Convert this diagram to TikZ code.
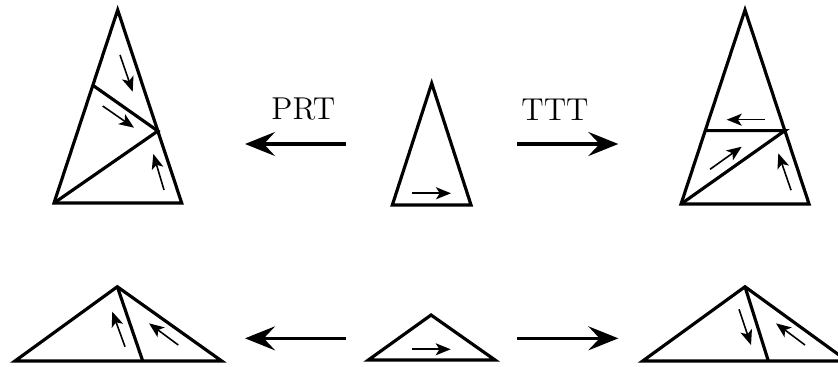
\documentclass[tikz,border=0pt]{standalone}
\usetikzlibrary{arrows.meta,calc}

\begin{document}
\begin{tikzpicture}[line width=1.2pt,
  map/.style={-{Stealth[length=4mm,width=3.2mm,inset=1.5mm]}},
  tick/.style={line width=0.6pt,-{Stealth[length=2mm,width=1.6mm,inset=0.5mm]}}]

\clip (0,0) rectangle (11.173,4.88);

\coordinate (a1) at (1.569,4.747);
\coordinate (b1) at (0.72,2.173);
\coordinate (c1) at (2.423,2.173);
\coordinate (p1) at ($(b1)!0.61!(a1)$);
\coordinate (q1) at ($(c1)!0.373!(a1)$);
\draw (a1) -- (b1) -- (c1) -- cycle;
\draw (p1) -- (q1) -- (b1);
\draw[tick] (1.6,4.147) -- (1.769,3.657);
\draw[tick] (1.369,3.467) -- (1.787,3.177);
\draw[tick] (2.187,2.347) -- (2.044,2.827);

\coordinate (a2) at (5.756,3.769);
\coordinate (b2) at (5.231,2.147);
\coordinate (c2) at (6.28,2.147);
\draw (a2) -- (b2) -- (c2) -- cycle;
\draw[tick] (5.489,2.303) -- (6.013,2.303);

\coordinate (a3) at (9.933,4.747);
\coordinate (b3) at (9.08,2.16);
\coordinate (c3) at (10.787,2.16);
\coordinate (p3) at ($(b3)!0.378!(a3)$);
\coordinate (q3) at ($(c3)!0.378!(a3)$);
\draw (a3) -- (b3) -- (c3) -- cycle;
\draw (p3) -- (q3) -- (b3);
\draw[tick] (10.2,3.284) -- (9.689,3.284);
\draw[tick] (9.467,2.623) -- (9.889,2.924);
\draw[tick] (10.547,2.344) -- (10.377,2.836);

\coordinate (a4) at (1.564,1.057);
\coordinate (b4) at (0.2,0.067);
\coordinate (c4) at (2.956,0.067);
\coordinate (f4) at (1.903,0.067);
\draw (a4) -- (b4) -- (c4) -- cycle;
\draw (a4) -- (f4);
\draw[tick] (1.667,0.257) -- (1.497,0.724);
\draw[tick] (2.377,0.28) -- (1.987,0.569);

\coordinate (a5) at (5.747,0.68);
\coordinate (b5) at (4.911,0.08);
\coordinate (c5) at (6.6,0.08);
\draw (a5) -- (b5) -- (c5) -- cycle;
\draw[tick] (5.489,0.223) -- (6.009,0.223);

\coordinate (a6) at (9.933,1.057);
\coordinate (b6) at (8.569,0.067);
\coordinate (c6) at (11.297,0.067);
\coordinate (f6) at (10.244,0.067);
\draw (a6) -- (b6) -- (c6) -- cycle;
\draw (a6) -- (f6);
\draw[tick] (9.853,0.756) -- (10.013,0.28);
\draw[tick] (10.733,0.28) -- (10.347,0.569);

\coordinate (prtS) at (4.613,2.96);
\coordinate (prtE) at (3.267,2.96);
\coordinate (tttS) at (6.897,2.96);
\coordinate (tttE) at (8.244,2.96);
\draw[map] (prtS) -- (prtE);
\node (prt) at (4.044,3.42) {\large PRT};
\draw[map] (tttS) -- (tttE);
\node (ttt) at (7.4,3.42) {\large TTT};

\coordinate (lowL) at (4.613,0.369);
\coordinate (lowLE) at (3.267,0.369);
\coordinate (lowR) at (6.897,0.369);
\coordinate (lowRE) at (8.244,0.369);
\draw[map] (lowL) -- (lowLE);
\draw[map] (lowR) -- (lowRE);

\end{tikzpicture}
\end{document}
